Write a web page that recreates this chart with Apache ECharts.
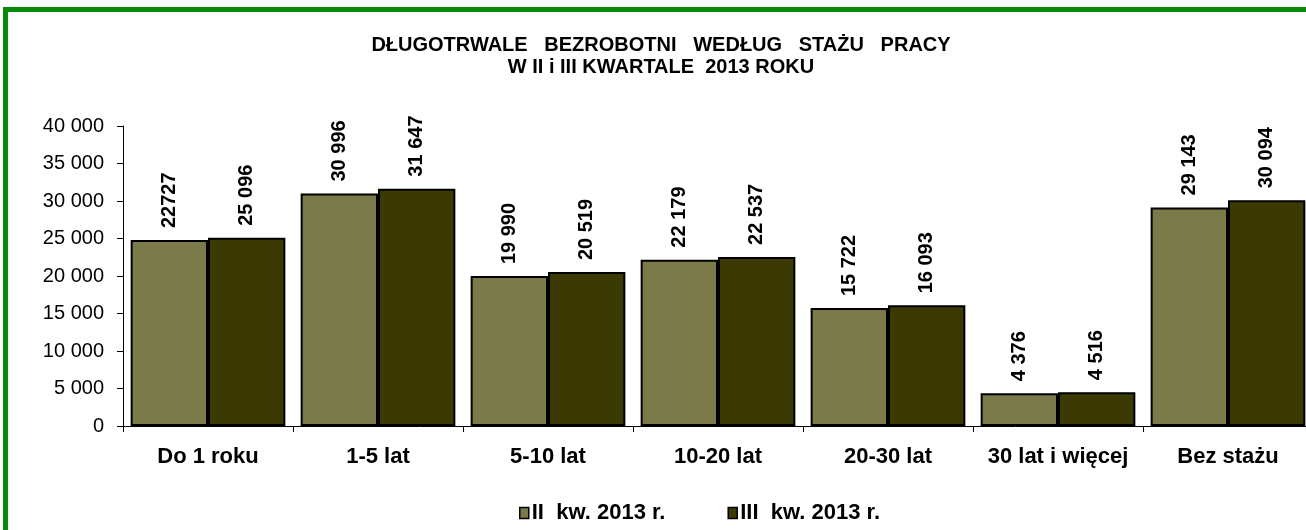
<!DOCTYPE html>
<html>
<head>
	<meta http-equiv="Content-Type" content="text/html; charset=utf-8" />
	<title>Długotrwale bezrobotni według stażu pracy</title>
	<script src="https://cdn.jsdelivr.net/npm/echarts@6/dist/echarts.min.js"></script>
	<style>
		body { margin: 0; background: #fff; overflow: hidden; }
		#chart { width: 1313px; height: 530px; }
	</style>
</head>
<body>
	<div id="chart"></div>
<script type="text/javascript">
	var categories = ["Do 1 roku", "1-5 lat", "5-10 lat", "10-20 lat", "20-30 lat", "30 lat i więcej", "Bez stażu"];
	var seriesNames = ["II  kw. 2013 r.", "III  kw. 2013 r."];
	// bar heights as drawn (the first bar is drawn higher than its label)
	var q2Values = [24800, 30996, 19990, 22179, 15722, 4376, 29143];
	var q3Values = [25096, 31647, 20519, 22537, 16093, 4516, 30094];
	// label texts as printed on the chart
	var q2Labels = ["22727", "30 996", "19 990", "22 179", "15 722", "4 376", "29 143"];
	var q3Labels = ["25 096", "31 647", "20 519", "22 537", "16 093", "4 516", "30 094"];
	var yTicks = [0, 5000, 10000, 15000, 20000, 25000, 30000, 35000, 40000];

	var font = "'Liberation Sans', Arial, sans-serif";

	function fmt(v) {
		return String(v).replace(/\B(?=(\d{3})+(?!\d))/g, " ");
	}

	function barSeries(name, values, labels, color) {
		return {
			name: name,
			type: "bar",
			data: values,
			barGap: "0%",
			barCategoryGap: "9%",
			itemStyle: { color: color, borderColor: "#000", borderWidth: 2 },
			label: {
				show: true,
				position: "top",
				rotate: 90,
				align: "left",
				verticalAlign: "middle",
				distance: 12,
				color: "#000",
				fontFamily: font,
				fontWeight: "bold",
				fontSize: 20,
				formatter: function(p) { return labels[p.dataIndex]; }
			}
		};
	}

	var myChart = echarts.init(document.getElementById("chart"));
	var option = {
		animation: false,
		backgroundColor: "#fff",
		title: {
			text: "DŁUGOTRWALE   BEZROBOTNI   WEDŁUG   STAŻU   PRACY\nW II i III KWARTALE  2013 ROKU",
			left: 656,
			textAlign: "center",
			top: 29,
			textStyle: {
				fontFamily: font,
				fontWeight: "bold",
				fontSize: 20,
				lineHeight: 22,
				color: "#000"
			}
		},
		legend: {
			data: seriesNames,
			left: 514,
			top: 497,
			itemWidth: 9,
			itemHeight: 11,
			itemGap: 62,
			icon: "rect",
			itemStyle: { borderColor: "#000", borderWidth: 1.5 },
			textStyle: {
				fontFamily: font,
				fontWeight: "bold",
				fontSize: 22,
				color: "#000",
				padding: [0, 0, 0, -2]
			}
		},
		grid: { left: 123, top: 126, right: 0, height: 300, containLabel: false },
		xAxis: {
			type: "category",
			data: categories,
			axisLine: { lineStyle: { color: "#000", width: 1 } },
			axisTick: { show: true, length: 6, lineStyle: { color: "#000" } },
			axisLabel: {
				interval: 0,
				margin: 20,
				color: "#000",
				fontFamily: font,
				fontWeight: "bold",
				fontSize: 22
			}
		},
		yAxis: {
			type: "value",
			min: yTicks[0],
			max: yTicks[yTicks.length - 1],
			interval: yTicks[1] - yTicks[0],
			splitLine: { show: false },
			axisLine: { show: true, lineStyle: { color: "#000", width: 1 } },
			axisTick: { show: true, length: 6, lineStyle: { color: "#000" } },
			axisLabel: {
				margin: 19,
				color: "#000",
				fontFamily: font,
				fontSize: 20,
				formatter: fmt
			}
		},
		graphic: [{
			type: "rect",
			silent: true,
			shape: { x: 5.5, y: 9.5, width: 1500, height: 700 },
			style: { fill: null, stroke: "#078a07", lineWidth: 5 }
		}],
		series: [
			barSeries(seriesNames[0], q2Values, q2Labels, "#7b7a4a"),
			barSeries(seriesNames[1], q3Values, q3Labels, "#3c3a04")
		]
	};
	myChart.setOption(option);
</script>
</body>
</html>
